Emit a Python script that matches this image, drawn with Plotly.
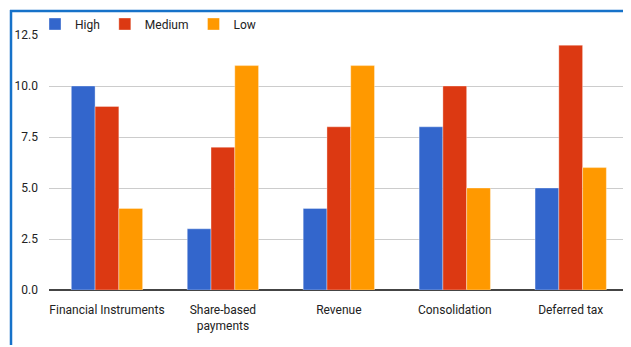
import plotly.graph_objects as go

categories = ["Financial Instruments", "Share-based<br>payments", "Revenue", "Consolidation", "Deferred tax"]
high = [10, 3, 4, 8, 5]
medium = [9, 7, 8, 10, 12]
low = [4, 11, 11, 5, 6]

FONT = "Roboto, Liberation Sans, Arial, sans-serif"
FS = 12
OFF = 8  # page body margin
W, H = 631 - OFF, 347 - OFF
# plot area in page pixels: x 49..631, y 35..290
ML, MT = 49 - OFF, 35 - OFF
MR = 0
MB = H - (290 - OFF)
PW, PH = W - ML - MR, H - MT - MB

def px_x(px):  # page pixel -> paper
    return (px - OFF - ML) / PW

def px_y(py):
    return (H - MB - (py - OFF)) / PH

fig = go.Figure()
for name, vals, col in [("High", high, "#3366CC"), ("Medium", medium, "#DC3912"), ("Low", low, "#FF9900")]:
    fig.add_trace(go.Bar(
        name=name, x=categories, y=vals,
        marker=dict(color=col, line=dict(color="rgba(255,255,255,0.35)", width=1)),
    ))

border = "#1672C9"
fig.add_shape(type="line", xref="paper", yref="paper",
              x0=px_x(10), x1=px_x(640), y0=px_y(11), y1=px_y(11),
              line=dict(color=border, width=2.5))
fig.add_shape(type="line", xref="paper", yref="paper",
              x0=px_x(11), x1=px_x(11), y0=px_y(10), y1=px_y(345),
              line=dict(color=border, width=2.5))

fig.update_layout(
    width=W, height=H,
    margin=dict(l=ML, r=MR, t=MT, b=MB, autoexpand=False),
    paper_bgcolor="white", plot_bgcolor="white",
    barmode="group", bargap=0.385, bargroupgap=0,
    font=dict(family=FONT, size=FS, color="#222222"),
    showlegend=True,
    legend=dict(orientation="h", x=px_x(35), xanchor="left", y=px_y(24), yanchor="middle",
                font=dict(family=FONT, size=FS, color="#222222"),
                bgcolor="rgba(0,0,0,0)", itemwidth=30, tracegroupgap=0),
    xaxis=dict(range=[-0.5, 4.52], showgrid=False, showline=False, ticks="",
               tickfont=dict(family=FONT, size=FS, color="#222222"),
               ticklabelstandoff=11, automargin=False, fixedrange=True),
    yaxis=dict(range=[0, 12.5], dtick=2.5, tick0=0, tickformat=".1f",
               showgrid=True, gridcolor="#CCCCCC", gridwidth=1,
               zeroline=True, zerolinecolor="#444444", zerolinewidth=1.5,
               showline=False, ticks="",
               tickfont=dict(family=FONT, size=FS, color="#222222"),
               ticklabelstandoff=10, automargin=False, fixedrange=True),
)

fig.write_html("out.html")
